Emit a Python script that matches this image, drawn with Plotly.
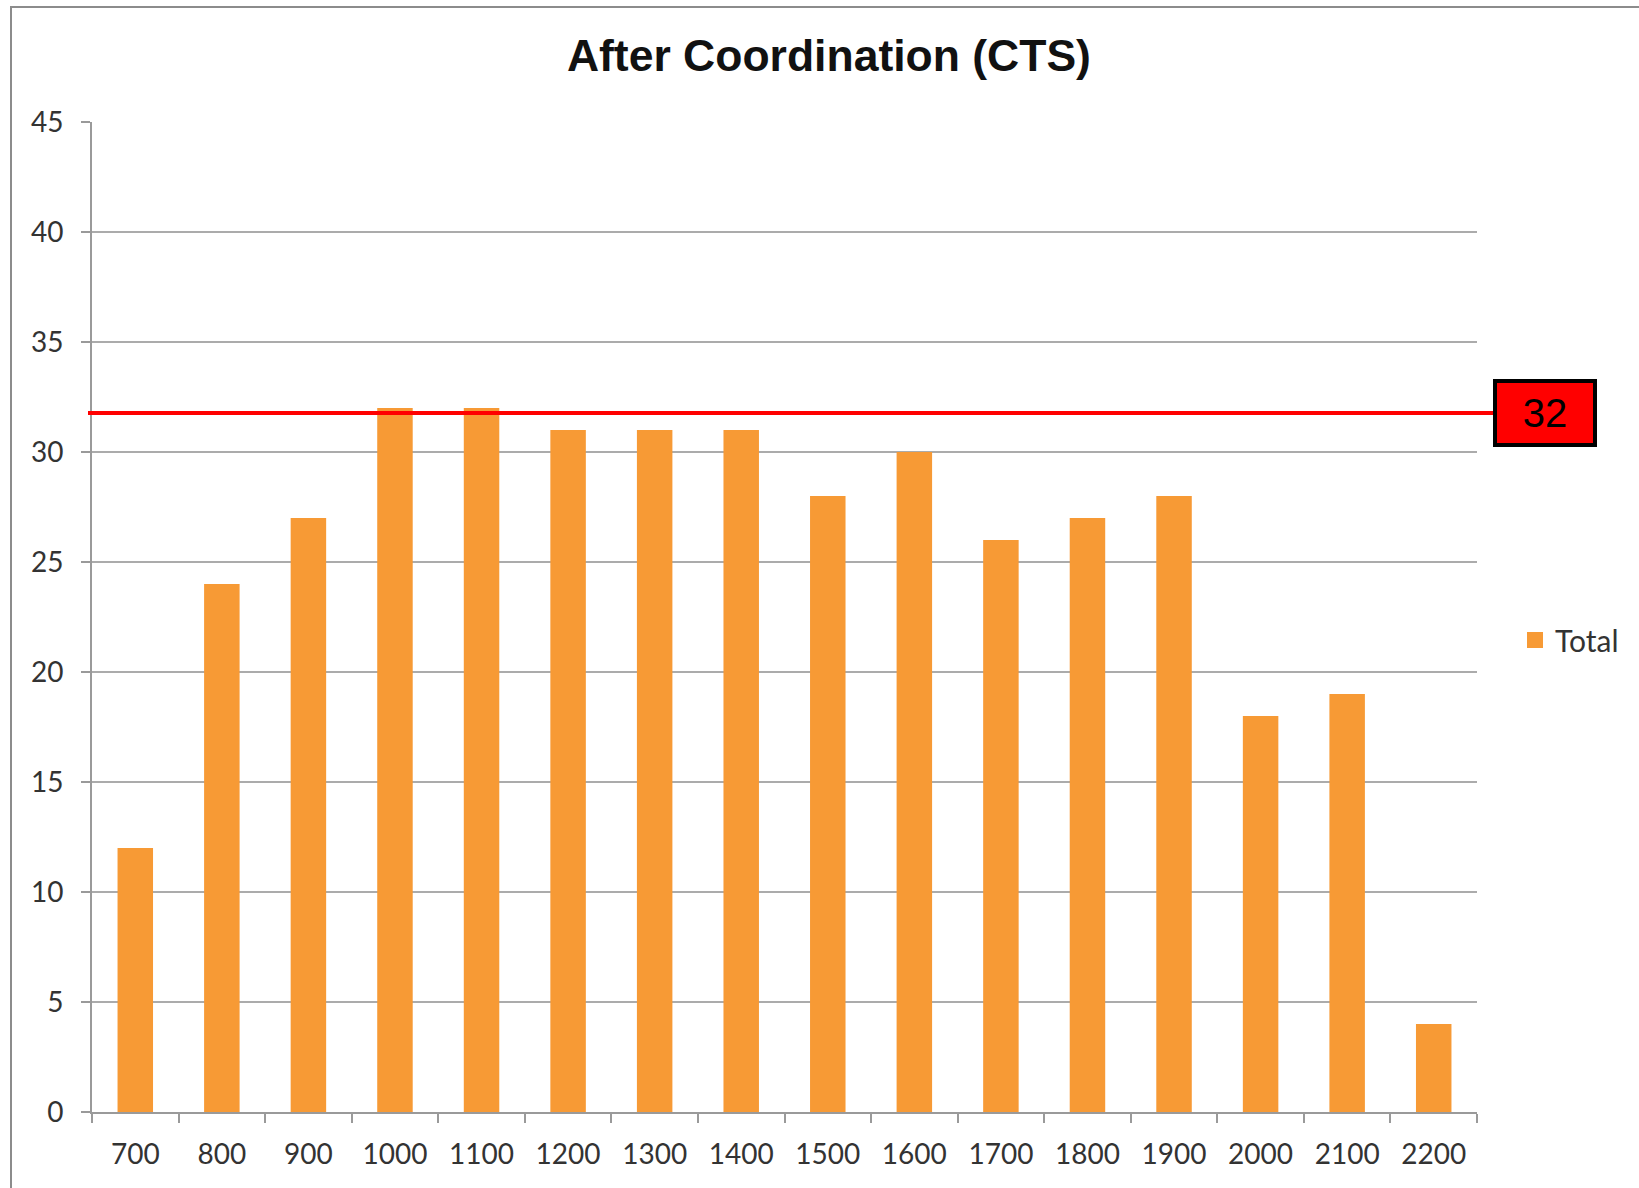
import plotly.graph_objects as go

categories = ["700", "800", "900", "1000", "1100", "1200", "1300", "1400",
              "1500", "1600", "1700", "1800", "1900", "2000", "2100", "2200"]
totals = [12, 24, 27, 32, 32, 31, 31, 31, 28, 30, 26, 27, 28, 18, 19, 4]
threshold = 32
y_ticks = [0, 5, 10, 15, 20, 25, 30, 35, 40, 45]

W, H = 1639, 1188
L, R, T, B = 92, 162, 122, 76
pw = W - L - R
ph = H - T - B
BAR_COLOR = "#F79A35"

fig = go.Figure()
fig.add_trace(go.Bar(x=categories, y=totals, name="Total", showlegend=False,
                     legendgroup="total",
                     marker=dict(color=BAR_COLOR, line=dict(width=0))))
# legend swatch (larger square, as in the source legend)
fig.add_trace(go.Scatter(x=[None], y=[None], mode="markers", name="Total",
                         legendgroup="total", hoverinfo="skip",
                         marker=dict(symbol="square", size=16, color=BAR_COLOR)))

fig.update_layout(
    width=W, height=H,
    margin=dict(l=L, r=R, t=T, b=B, autoexpand=False),
    paper_bgcolor="white", plot_bgcolor="white",
    bargap=0.59,
    title=dict(text="<b>After Coordination (CTS)</b>", x=(793 * 1.0453) / W, xanchor="center",
               y=1 - 55 / H, yanchor="middle",
               font=dict(family="Liberation Sans, Arial", size=44.5, color="#111111")),
    showlegend=True,
    legend=dict(x=(1515 - L) / pw, xanchor="left", y=(1112 - 640) / ph, yanchor="middle",
                font=dict(family="Lato", size=30, color="#333333"),
                bgcolor="rgba(0,0,0,0)", itemwidth=30, itemsizing="trace"),
    font=dict(family="Lato", size=28, color="#333333"),
)

fig.update_xaxes(
    type="category", showgrid=False, showline=True, linecolor="#9A9A9A", linewidth=2,
    ticks="outside", tickson="boundaries", ticklen=9, tickcolor="#9A9A9A", tickwidth=2,
    tickfont=dict(family="Lato", size=28, color="#333333"),
    ticklabelstandoff=16,
)
fig.update_yaxes(
    range=[0, 45], tickvals=y_ticks, showgrid=True, gridcolor="#ABABAB", gridwidth=2,
    showline=True, linecolor="#9A9A9A", linewidth=2,
    ticks="outside", ticklen=9, tickcolor="#9A9A9A", tickwidth=2,
    tickfont=dict(family="Lato", size=28, color="#333333"),
    ticklabelstandoff=12, zeroline=False,
)

# threshold line (drawn a few pixels under the 32 level as in the source graphic)
fig.add_shape(type="line", xref="paper", yref="y", ysizemode="pixel", yanchor=threshold,
              x0=(88 - L) / pw, x1=(1494 - L) / pw, y0=-5, y1=-5,
              line=dict(color="#FF0000", width=4))
fig.add_annotation(xref="paper", yref="y", x=(1545 - L) / pw, y=threshold, yshift=-5,
                   text=str(threshold), showarrow=False, xanchor="center", yanchor="middle",
                   bgcolor="#FF0000", bordercolor="#000000", borderwidth=4,
                   width=96, height=60, borderpad=0,
                   font=dict(family="Liberation Sans, Arial", size=40, color="#000000"))

# outer frame (top and left edges)
ytop = 1 + (T - 7) / ph
fig.add_shape(type="line", xref="paper", yref="paper",
              x0=(10 - L) / pw, x1=(W - L) / pw, y0=ytop, y1=ytop,
              line=dict(color="#8C8C8C", width=2))
fig.add_shape(type="line", xref="paper", yref="paper",
              x0=(11 - L) / pw, x1=(11 - L) / pw, y0=-B / ph, y1=ytop,
              line=dict(color="#8C8C8C", width=2))

fig.write_html("out.html", config={"displayModeBar": False},
               post_script="document.body.style.margin='0px';")
